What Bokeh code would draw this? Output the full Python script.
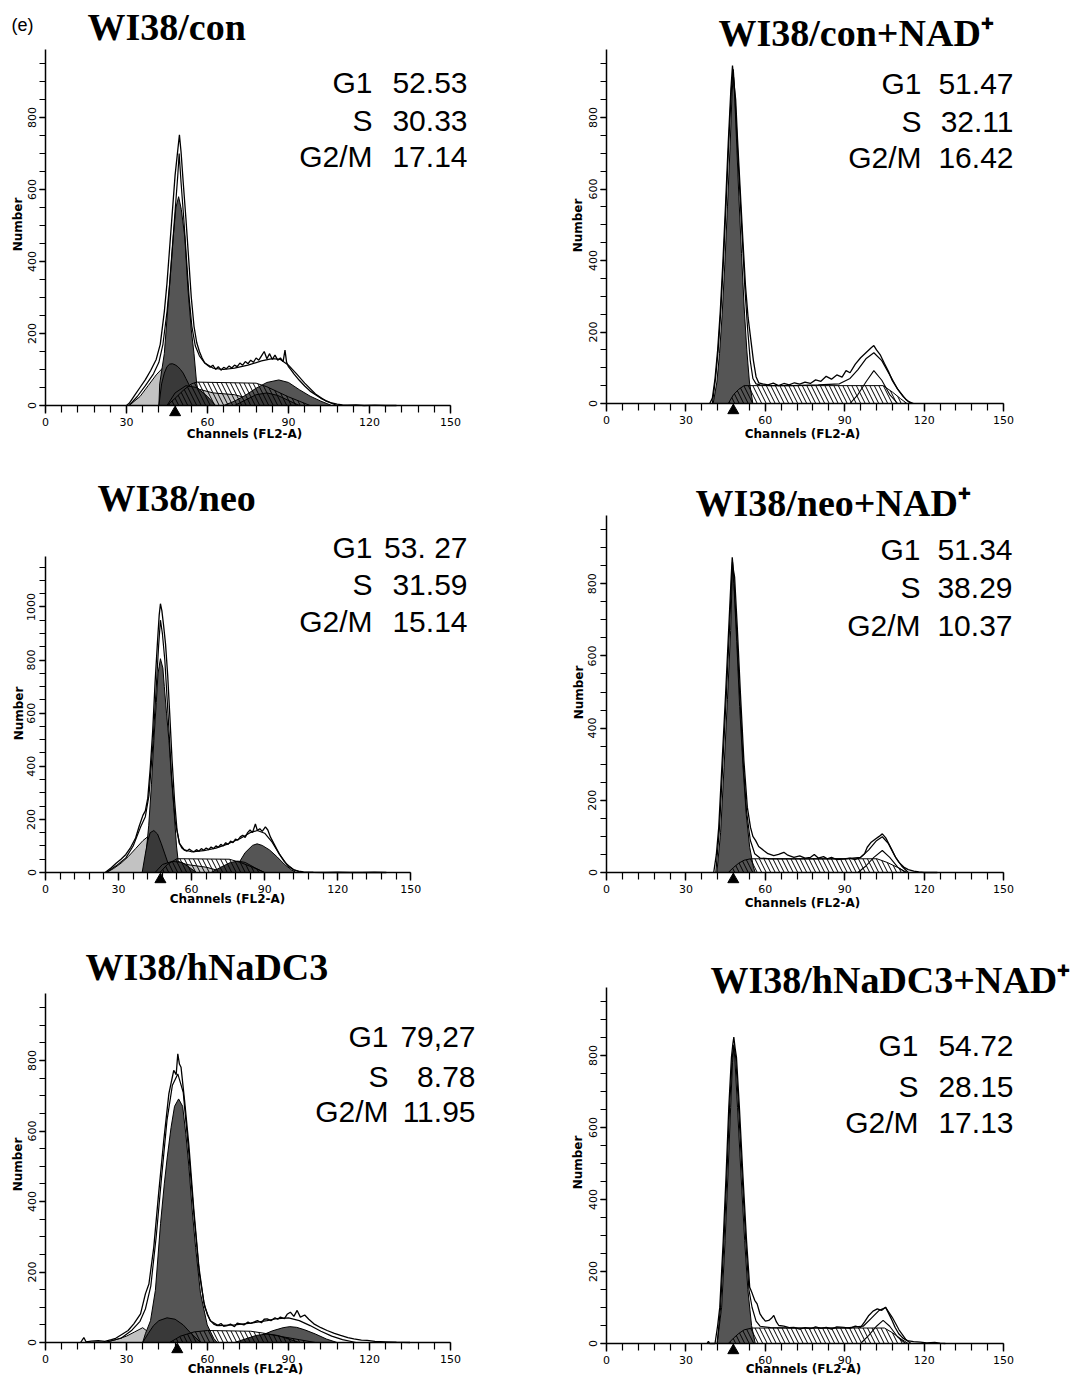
import math
from bokeh.plotting import figure
from bokeh.layouts import column, row
from bokeh.models import LinearAxis, SingleIntervalTicker, Range1d
from bokeh.core.properties import value
from bokeh.embed import file_html
from bokeh.resources import INLINE

# ---------------- data (channel, count) ----------------
titles = ["WI38/con", "WI38/con+NAD⁺", "WI38/neo", "WI38/neo+NAD⁺", "WI38/hNaDC3", "WI38/hNaDC3+NAD⁺"]
phases = ["G1", "S", "G2/M"]
pct_con = ["52.53", "30.33", "17.14"]
pct_cnad = ["51.47", "32.11", "16.42"]
pct_neo = ["53. 27", "31.59", "15.14"]
pct_nnad = ["51.34", "38.29", "10.37"]
pct_hn = ["79,27", "8.78", "11.95"]
pct_hnad = ["54.72", "28.15", "17.13"]

# WI38/con
con_data_x = [30, 31, 33, 35, 37, 39, 41, 42.5, 44, 45, 46, 47, 48, 49, 49.6, 50.2, 51, 52, 53, 54, 55, 56, 57, 58, 59, 60, 61, 62, 63, 64, 65, 66, 67, 68, 69, 70, 71, 72, 73, 74, 75, 76, 77, 78, 79, 80, 81, 82, 83, 84, 85, 86, 87, 88, 88.7, 89.3, 90, 91, 92, 94, 96, 98, 100, 102, 104, 106, 108, 110, 112, 115, 118, 122, 126, 130]
con_data_y = [0, 6, 28, 50, 72, 98, 128, 170, 260, 340, 440, 540, 640, 710, 752, 705, 620, 520, 410, 300, 220, 175, 150, 132, 118, 112, 106, 112, 100, 108, 98, 106, 102, 110, 104, 112, 108, 118, 112, 122, 116, 126, 120, 132, 126, 138, 150, 130, 144, 128, 140, 126, 132, 122, 154, 120, 108, 98, 88, 70, 54, 40, 30, 20, 13, 7, 4, 2, 1, 2, 0, 1, 0, 0]
con_fit_x = [31, 34, 37, 40, 42, 43.5, 45, 46, 47, 48, 49, 49.5, 50.2, 51.2, 52.2, 53.2, 54.2, 55.5, 57, 59, 62, 66, 70, 75, 80, 84, 87, 90, 93, 96, 100, 104, 108]
con_fit_y = [0, 25, 55, 88, 120, 170, 260, 340, 440, 540, 640, 700, 620, 520, 410, 300, 220, 165, 138, 118, 104, 100, 104, 112, 124, 130, 128, 112, 88, 62, 32, 12, 0]
con_g1_x = [42, 42.3, 44, 45.9, 47.3, 48.3, 49.3, 50.3, 51.6, 52.7, 54, 55, 56, 57.5, 58]
con_g1_y = [0, 60, 144, 329, 468, 550, 580, 545, 468, 329, 210, 144, 60, 10, 0]
con_p2g1_x = [42, 43, 44, 45, 46, 47, 48, 49, 50, 51, 52, 53, 54, 55, 56, 57.5]
con_p2g1_y = [0, 60, 90, 108, 115, 116, 113, 108, 100, 90, 75, 60, 45, 30, 15, 0]
con_p2s_x = [45, 48, 52, 56, 60, 63]
con_p2s_y = [0, 35, 55, 50, 25, 0]
con_deb_x = [31, 35, 38, 41, 43.5, 47, 52, 57, 62, 70, 75, 78]
con_deb_y = [0, 25, 55, 85, 105, 90, 70, 45, 35, 30, 20, 0]
con_s_x = [45, 48, 51, 54, 56, 78, 82, 86, 90, 94, 98]
con_s_y = [0, 20, 42, 60, 65, 62, 52, 38, 24, 12, 0]
con_g2_x = [66, 70, 74, 78, 82, 86.4, 90, 94, 98, 102, 106]
con_g2_y = [0, 12, 28, 48, 64, 71, 64, 44, 26, 12, 0]
con_p2g2_x = [70, 74, 78, 82, 86, 90, 94]
con_p2g2_y = [0, 15, 30, 35, 28, 14, 0]
con_marker = [48]

# WI38/con+NAD+
cnad_data_x = [39, 40, 41, 42, 43, 44, 45, 46, 47, 47.6, 48.1, 48.8, 49.5, 50.5, 51.5, 52.5, 53.5, 54.5, 55.5, 56.5, 57.5, 59, 61, 63, 65, 67, 69, 71, 73, 75, 77, 79, 81, 83, 85, 87, 89, 90.5, 92, 94, 96, 98, 100, 101, 102, 103.5, 105, 106.5, 108, 110, 112, 114, 116]
cnad_data_y = [0, 15, 70, 150, 260, 400, 560, 730, 880, 945, 900, 850, 740, 600, 460, 330, 240, 180, 120, 75, 58, 55, 52, 57, 50, 56, 52, 58, 54, 60, 56, 66, 62, 76, 68, 80, 74, 92, 86, 110, 128, 142, 156, 162, 150, 135, 112, 90, 64, 40, 20, 6, 0]
cnad_fit_x = [40, 41.2, 42.2, 43.2, 44.2, 45.2, 46.2, 47.2, 47.9, 48.6, 49.3, 50.3, 51.3, 52.3, 53.3, 54.3, 55.3, 56.5, 58, 62, 70, 80, 88, 92, 95, 98, 101, 104, 107, 110, 113, 115]
cnad_fit_y = [0, 70, 150, 260, 400, 560, 730, 880, 935, 850, 740, 600, 460, 320, 210, 120, 70, 55, 52, 50, 50, 52, 55, 70, 95, 125, 142, 120, 80, 40, 12, 0]
cnad_g1_x = [40.3, 41.7, 42.7, 43.7, 44.7, 45.7, 46.7, 47.4, 47.9, 48.4, 49.1, 50, 51, 52, 53, 54, 55.3]
cnad_g1_y = [0, 60, 140, 250, 390, 550, 720, 860, 925, 860, 740, 580, 420, 270, 150, 60, 0]
cnad_s_x = [46, 48, 50, 52, 104.5, 108, 111, 113.5]
cnad_s_y = [0, 25, 40, 50, 50, 32, 14, 0]
cnad_g2_x = [92, 95, 98, 101, 104, 107, 110]
cnad_g2_y = [0, 25, 60, 92, 65, 25, 0]
cnad_marker = [47.9]

# WI38/neo
neo_data_x = [24.5, 27, 29, 31, 33, 35, 37, 38.5, 40, 41, 42, 43, 44, 45, 46, 46.7, 47.2, 47.8, 48.5, 49.3, 50.2, 51, 52, 53, 54, 55, 56, 57, 58, 59, 60, 61, 62, 63, 64, 65, 66, 67, 68, 69, 70, 71, 72, 73, 74, 75, 76, 77, 78, 79, 80, 81, 82, 83, 84, 85, 86.2, 87, 88, 89, 90.3, 91.3, 92.4, 94, 96, 98, 100, 102, 104, 106, 110, 115, 120, 125, 130, 135, 140]
neo_data_y = [0, 18, 35, 50, 68, 95, 130, 175, 215, 232, 280, 390, 530, 715, 870, 970, 1012, 985, 930, 860, 740, 600, 420, 270, 160, 110, 92, 85, 80, 88, 82, 78, 86, 80, 90, 84, 92, 86, 96, 90, 100, 95, 106, 100, 112, 106, 118, 112, 126, 122, 134, 140, 132, 150, 160, 150, 183, 158, 165, 155, 172, 160, 133, 105, 70, 42, 22, 10, 5, 2, 1, 0, 1, 0, 0, 1, 0]
neo_fit_x = [25, 29, 33, 36, 39, 41, 42.5, 44, 45.5, 46.5, 47.2, 48, 49, 50.3, 51.8, 53.3, 55, 57, 60, 65, 70, 75, 80, 84, 87, 90, 93, 96, 99, 102, 105]
neo_fit_y = [0, 25, 55, 100, 170, 210, 290, 470, 700, 860, 950, 900, 800, 600, 360, 190, 110, 85, 78, 82, 92, 108, 128, 150, 158, 148, 115, 70, 32, 10, 0]
neo_g1_x = [40.3, 41.5, 42.4, 43.5, 44.5, 45.5, 46.2, 47.2, 48.2, 48.8, 49.7, 50.7, 51.7, 52.7, 53.8, 55]
neo_g1_y = [0, 90, 178, 330, 497, 640, 748, 805, 770, 700, 600, 497, 360, 245, 100, 0]
neo_p2g1_x = [39.7, 41, 42, 43, 44.5, 46, 47.5, 49, 50.5, 52]
neo_p2g1_y = [0, 70, 120, 150, 158, 145, 110, 70, 30, 0]
neo_p2s_x = [45, 48, 52, 56, 59, 62]
neo_p2s_y = [0, 30, 42, 38, 20, 0]
neo_deb_x = [25, 28, 31, 34, 37, 40, 42, 45, 48, 52, 58, 66, 74]
neo_deb_y = [0, 15, 35, 60, 90, 120, 135, 120, 80, 50, 30, 20, 0]
neo_s_x = [47, 50, 54, 75.5, 80, 85, 90]
neo_s_y = [0, 30, 52, 50, 38, 20, 0]
neo_g2_x = [76, 79, 82, 85, 86.9, 89, 92, 95, 98, 101, 103]
neo_g2_y = [0, 30, 75, 102, 108, 102, 85, 60, 32, 10, 0]
neo_p2g2_x = [68, 72, 76, 79, 82, 86, 90]
neo_p2g2_y = [0, 20, 38, 43, 38, 18, 0]
neo_marker = [47.2]

# WI38/neo+NAD+
nnad_data_x = [40.5, 41.5, 42.4, 43.7, 45, 46.2, 47.1, 47.5, 47.9, 48.4, 49.4, 50.6, 51.9, 53.2, 54.4, 55.3, 56.3, 57.5, 59.4, 61, 63.2, 65, 67, 68.5, 70.8, 73, 75, 77.1, 78.5, 80, 82, 83.4, 85, 87, 89.7, 92, 94, 96, 97.5, 98.5, 100, 101.6, 103, 104.2, 105.5, 106.7, 108, 109.2, 110.5, 112.3, 114, 116.1, 118, 120, 125]
nnad_data_y = [0, 50, 125, 310, 495, 680, 818, 873, 840, 818, 680, 495, 310, 181, 125, 100, 89, 72, 61, 52, 47, 50, 56, 48, 42, 46, 40, 42, 50, 40, 44, 38, 42, 36, 38, 40, 36, 42, 52, 70, 84, 93, 100, 107, 96, 79, 60, 42, 28, 15, 8, 4, 2, 0, 0]
nnad_fit_x = [41.3, 42.7, 44, 45.3, 46.5, 47.3, 47.6, 48.1, 49.1, 50.3, 51.6, 52.9, 54.3, 56, 58, 62, 70, 80, 90, 96, 99, 102, 104.2, 106.5, 109, 111.5, 114]
nnad_fit_y = [0, 125, 310, 495, 680, 818, 860, 818, 680, 495, 310, 170, 90, 52, 40, 38, 38, 38, 38, 42, 62, 88, 99, 80, 45, 18, 0]
nnad_g1_x = [41.7, 43.1, 44.4, 45.7, 46.9, 47.6, 48.1, 49.2, 50.3, 51.5, 52.8, 54.1, 55.5, 56.2]
nnad_g1_y = [0, 110, 290, 480, 670, 845, 800, 640, 460, 300, 160, 70, 15, 0]
nnad_s_x = [46, 48, 50, 52, 54.4, 102.2, 106, 110, 113.5]
nnad_s_y = [0, 14, 26, 34, 38, 38, 28, 14, 0]
nnad_g2_x = [95, 98, 101, 104.2, 107, 110, 113]
nnad_g2_y = [0, 18, 42, 61, 42, 15, 0]
nnad_marker = [47.9]

# WI38/hNaDC3
hn_data_x = [13, 14.2, 15, 17, 19.5, 22, 24.4, 26, 28.1, 30.6, 32.7, 35.2, 37, 38.3, 40.1, 42, 43.8, 45.7, 47.5, 48.4, 49, 49.6, 50.2, 51.5, 53.1, 54.9, 56.8, 58.6, 60, 61.1, 62.3, 63.6, 65, 66, 67.3, 68.5, 70, 71, 72.2, 73.5, 75, 76, 77.2, 78.5, 80, 81, 82.1, 83.5, 85, 86, 87, 88.5, 89.5, 90.7, 92, 93.2, 94.4, 96, 97.5, 99.4, 102, 104.3, 107, 109.3, 112, 114.2, 117, 119.1, 122, 126, 130, 135]
hn_data_y = [0, 14, 2, 4, 5, 3, 8, 12, 22, 34, 53, 81, 138, 166, 270, 431, 573, 706, 772, 760, 819, 790, 781, 687, 560, 380, 215, 115, 78, 62, 52, 48, 54, 46, 48, 52, 45, 55, 53, 50, 58, 54, 58, 62, 56, 66, 67, 62, 70, 66, 72, 68, 80, 86, 74, 91, 72, 78, 66, 53, 42, 34, 26, 20, 14, 10, 7, 6, 3, 2, 1, 0]
hn_fit_x = [22, 28, 32, 35, 37, 39, 41, 43, 45, 47, 49, 51, 53, 55, 57, 59, 61, 64, 70, 76, 82, 86, 90, 94, 98, 102, 106, 110, 115]
hn_fit_y = [0, 12, 35, 60, 95, 160, 300, 470, 630, 730, 762, 710, 545, 360, 195, 100, 62, 48, 50, 55, 62, 68, 70, 62, 48, 32, 18, 8, 0]
hn_g1_x = [36, 37, 38.9, 40.7, 42.6, 44, 45.1, 46.5, 47.8, 49.3, 50.8, 52, 53.1, 54.4, 55.6, 57.4, 59.9, 62.3, 63.6]
hn_g1_y = [0, 25, 62, 148, 337, 450, 526, 610, 670, 691, 670, 590, 500, 370, 270, 140, 50, 12, 0]
hn_p2g1_x = [36, 38, 40, 42, 45, 48, 51, 54, 57.5]
hn_p2g1_y = [0, 25, 48, 62, 70, 66, 50, 25, 0]
hn_deb_x = [22, 26, 30, 33, 36, 38, 40]
hn_deb_y = [0, 8, 18, 30, 42, 30, 0]
hn_s_x = [46, 50, 55, 60, 76, 82, 88, 94, 100]
hn_s_y = [0, 18, 30, 34, 32, 25, 16, 8, 0]
hn_g2_x = [72, 76, 80, 84, 88, 90.5, 93, 96, 100, 104, 108]
hn_g2_y = [0, 8, 20, 33, 42, 45, 43, 36, 24, 10, 0]
hn_p2g2_x = [70, 74, 78, 82, 86, 90, 94]
hn_p2g2_y = [0, 10, 20, 24, 20, 10, 0]
hn_marker = [48.8]

# WI38/hNaDC3+NAD+
hnad_data_x = [38, 38.5, 39, 41, 42, 42.8, 44.1, 45.2, 46.2, 47.2, 47.7, 48.1, 48.6, 49.1, 50.2, 51.5, 52.9, 54.1, 55, 56, 56.9, 58, 58.8, 60, 61.3, 62.3, 63.2, 64.2, 65.1, 67, 69, 70.8, 73, 75, 77.1, 79, 81, 83, 85, 87, 89.7, 92, 94, 96, 97.5, 99.1, 100.7, 102.3, 104, 105.4, 106.5, 107.9, 109, 110.4, 112, 113.6, 116, 118.6, 121, 124, 126, 128]
hnad_data_y = [0, 6, 0, 0, 50, 101, 286, 471, 656, 795, 830, 851, 820, 795, 656, 471, 286, 156, 140, 120, 110, 82, 73, 62, 64, 70, 78, 60, 50, 48, 44, 45, 40, 44, 41, 46, 42, 45, 40, 46, 45, 42, 48, 45, 60, 78, 90, 96, 92, 101, 85, 64, 45, 27, 15, 8, 5, 4, 2, 3, 1, 0]
hnad_fit_x = [41.8, 43.1, 44.4, 45.5, 46.5, 47.5, 48.1, 48.8, 49.9, 51.2, 52.6, 53.8, 55, 56.5, 58, 62, 70, 80, 90, 97, 100, 103, 105.5, 108, 110.5, 113, 115]
hnad_fit_y = [0, 101, 286, 471, 656, 795, 830, 795, 656, 471, 286, 150, 100, 62, 48, 44, 43, 43, 43, 48, 70, 92, 100, 72, 38, 12, 0]
hnad_g1_x = [41.8, 43.5, 44.8, 45.9, 46.9, 47.6, 48.1, 48.5, 49.5, 50.8, 52.2, 53.4, 54.8, 56.2]
hnad_g1_y = [0, 101, 286, 471, 656, 780, 823, 790, 656, 471, 286, 150, 50, 0]
hnad_s_x = [46, 48, 50, 52, 55, 105, 108, 111, 114]
hnad_s_y = [0, 15, 28, 38, 43, 43, 30, 14, 0]
hnad_g2_x = [96, 99, 102, 104.5, 107, 110, 113]
hnad_g2_y = [0, 22, 48, 64, 48, 18, 0]
hnad_marker = [47.9]

# ---------------- assemble per panel ----------------
panels = [
    dict(title=titles[0], pct=pct_con, data=(con_data_x, con_data_y), fit=(con_fit_x, con_fit_y),
         g1=(con_g1_x, con_g1_y), p2g1=(con_p2g1_x, con_p2g1_y), p2s=(con_p2s_x, con_p2s_y),
         deb=(con_deb_x, con_deb_y), s=(con_s_x, con_s_y), g2=(con_g2_x, con_g2_y),
         p2g2=(con_p2g2_x, con_p2g2_y), g2line=None, marker=con_marker),
    dict(title=titles[1], pct=pct_cnad, data=(cnad_data_x, cnad_data_y), fit=(cnad_fit_x, cnad_fit_y),
         g1=(cnad_g1_x, cnad_g1_y), p2g1=None, p2s=None, deb=None, s=(cnad_s_x, cnad_s_y), g2=None,
         p2g2=None, g2line=(cnad_g2_x, cnad_g2_y), marker=cnad_marker),
    dict(title=titles[2], pct=pct_neo, data=(neo_data_x, neo_data_y), fit=(neo_fit_x, neo_fit_y),
         g1=(neo_g1_x, neo_g1_y), p2g1=(neo_p2g1_x, neo_p2g1_y), p2s=(neo_p2s_x, neo_p2s_y),
         deb=(neo_deb_x, neo_deb_y), s=(neo_s_x, neo_s_y), g2=(neo_g2_x, neo_g2_y),
         p2g2=(neo_p2g2_x, neo_p2g2_y), g2line=None, marker=neo_marker),
    dict(title=titles[3], pct=pct_nnad, data=(nnad_data_x, nnad_data_y), fit=(nnad_fit_x, nnad_fit_y),
         g1=(nnad_g1_x, nnad_g1_y), p2g1=None, p2s=None, deb=None, s=(nnad_s_x, nnad_s_y), g2=None,
         p2g2=None, g2line=(nnad_g2_x, nnad_g2_y), marker=nnad_marker),
    dict(title=titles[4], pct=pct_hn, data=(hn_data_x, hn_data_y), fit=(hn_fit_x, hn_fit_y),
         g1=(hn_g1_x, hn_g1_y), p2g1=(hn_p2g1_x, hn_p2g1_y), p2s=None,
         deb=(hn_deb_x, hn_deb_y), s=(hn_s_x, hn_s_y), g2=(hn_g2_x, hn_g2_y),
         p2g2=(hn_p2g2_x, hn_p2g2_y), g2line=None, marker=hn_marker),
    dict(title=titles[5], pct=pct_hnad, data=(hnad_data_x, hnad_data_y), fit=(hnad_fit_x, hnad_fit_y),
         g1=(hnad_g1_x, hnad_g1_y), p2g1=None, p2s=None, deb=None, s=(hnad_s_x, hnad_s_y), g2=None,
         p2g2=None, g2line=(hnad_g2_x, hnad_g2_y), marker=hnad_marker),
]

# ---------------- layout (page pixels, origin at top-left of the picture; text y = centre) ----------------
LAYOUT = [
    dict(cal=(45, 2.7, 405, 0.36), rect=(0, 0, 548, 460), ytop=990,
         title=(87, 26), stats=(372, 467, [82, 120, 156]), num=(17, 224), chan=(244, 433)),
    dict(cal=(606, 2.647, 403, 0.3575), rect=(548, 0, 1090, 460), ytop=990,
         title=(718, 32), stats=(921, 1013, [83, 121, 157]), num=(577, 225), chan=(802, 433)),
    dict(cal=(45, 2.435, 872, 0.2656), rect=(0, 460, 548, 938), ytop=1190,
         title=(97, 497), stats=(372, 467, [547, 584, 621]), num=(18, 713), chan=(227, 898)),
    dict(cal=(606, 2.647, 872, 0.361), rect=(548, 460, 1090, 938), ytop=990,
         title=(695, 502), stats=(920, 1012, [549, 587, 625]), num=(578, 692), chan=(802, 902)),
    dict(cal=(45, 2.7, 1342, 0.3525), rect=(0, 938, 548, 1376), ytop=990,
         title=(85, 966), stats=(388, 475, [1036, 1076, 1111]), num=(17, 1164), chan=(245, 1368)),
    dict(cal=(606, 2.647, 1343, 0.36), rect=(548, 938, 1090, 1376), ytop=990,
         title=(710, 979), stats=(918, 1013, [1045, 1086, 1122]), num=(577, 1162), chan=(803, 1368)),
]

G1_COL = "#555555"
P2_COL = "#393939"
DEB_COL = "#c2c2c2"


def build(d, lay, first):
    X0, sx, Y0, sy = lay["cal"]
    L, T, R, B = lay["rect"]
    fx = lambda px: (px - X0) / sx
    fy = lambda py: (Y0 - py) / sy
    p = figure(width=R - L, height=B - T, x_range=Range1d(fx(L), fx(R)), y_range=Range1d(fy(B), fy(T)),
               x_axis_type=None, y_axis_type=None, toolbar_location=None, output_backend="svg",
               min_border=0, title=None)
    p.outline_line_color = None
    p.grid.visible = False
    p.background_fill_color = "white"
    p.border_fill_color = "white"

    def patch(xy, fill, hatch=False):
        if xy is None:
            return
        kw = dict(line_color="black", line_width=1)
        if hatch:
            p.patch(xy[0], xy[1], fill_color=None, hatch_pattern="left_diagonal_line",
                    hatch_color="black", hatch_scale=9, hatch_weight=1, **kw)
        else:
            p.patch(xy[0], xy[1], fill_color=fill, **kw)

    patch(d["deb"], DEB_COL)
    patch(d["g1"], G1_COL)
    patch(d["p2g1"], P2_COL)
    patch(d["p2s"], P2_COL)
    patch(d["g2"], G1_COL)
    patch(d["p2g2"], P2_COL)
    patch(d["s"], None, hatch=True)
    if d["g2line"] is not None:
        p.line(d["g2line"][0], d["g2line"][1], line_color="black", line_width=1.1)
    p.line(d["fit"][0], d["fit"][1], line_color="black", line_width=1.2)
    p.line(d["data"][0], d["data"][1], line_color="black", line_width=1.3)

    # G1 mean marker below the axis
    p.scatter(d["marker"], [-7 / sy] * len(d["marker"]), marker="triangle", size=11,
              fill_color="black", line_color="black")

    # axes
    xax = LinearAxis(fixed_location=0, bounds=(0, 150),
                     ticker=SingleIntervalTicker(interval=30, num_minor_ticks=5))
    yax = LinearAxis(fixed_location=0, bounds=(0, lay["ytop"]),
                     ticker=SingleIntervalTicker(interval=200, num_minor_ticks=4))
    for ax in (xax, yax):
        ax.axis_line_width = 1.5
        ax.axis_line_color = "black"
        ax.major_tick_line_width = 1.4
        ax.minor_tick_line_width = 1.2
        ax.major_tick_in = 0
        ax.minor_tick_in = 0
        ax.major_label_text_font = "DejaVu Sans"
        ax.major_label_text_font_size = "11px"
        ax.major_label_text_color = "black"
    xax.major_label_standoff = 4
    yax.major_label_standoff = 4
    xax.major_tick_out = 8
    xax.minor_tick_out = 7
    yax.major_tick_out = 6
    yax.minor_tick_out = 6
    yax.major_label_orientation = "vertical"
    p.add_layout(xax, "below")
    p.add_layout(yax, "left")

    # texts
    tx, ty = lay["title"]
    p.text([fx(tx)], [fy(ty)], text=[d["title"]], text_font=value("Liberation Serif"),
           text_font_style="bold", text_font_size="38px", text_align="left",
           text_baseline="middle", text_color="black")
    lr, vr, bl = lay["stats"]
    p.text([fx(lr)] * 3, [fy(b) for b in bl], text=phases, text_font=value("Liberation Sans"),
           text_font_size="30px", text_align="right", text_baseline="middle", text_color="black")
    p.text([fx(vr)] * 3, [fy(b) for b in bl], text=d["pct"], text_font=value("Liberation Sans"),
           text_font_size="30px", text_align="right", text_baseline="middle", text_color="black")
    nx, ny = lay["num"]
    p.text([fx(nx)], [fy(ny)], text=["Number"], text_font=value("DejaVu Sans"), text_font_style="bold",
           text_font_size="12px", angle=math.pi / 2, text_align="center", text_baseline="middle",
           text_color="black")
    cx, cy = lay["chan"]
    p.text([fx(cx)], [fy(cy)], text=["Channels (FL2-A)"], text_font=value("DejaVu Sans"),
           text_font_style="bold", text_font_size="12px", text_align="center", text_baseline="middle",
           text_color="black")
    if first:
        p.text([fx(11)], [fy(24)], text=["(e)"], text_font=value("Liberation Sans"),
               text_font_size="18px", text_align="left", text_baseline="middle", text_color="black")
    return p


figs = [build(d, lay, i == 0) for i, (d, lay) in enumerate(zip(panels, LAYOUT))]
page = column(row(figs[0], figs[1]), row(figs[2], figs[3]), row(figs[4], figs[5]))
open("out.html", "w").write(file_html(page, INLINE))
